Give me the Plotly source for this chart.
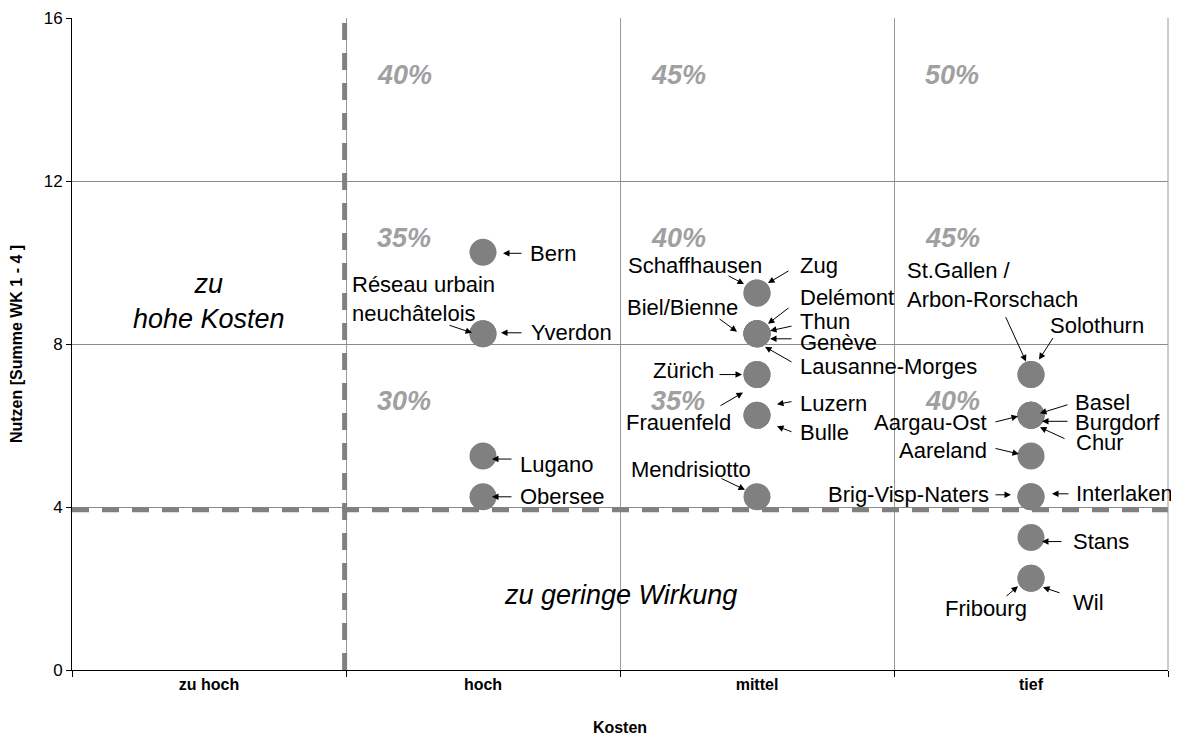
import plotly.graph_objects as go

# ---------------- data ----------------
cost_levels = ["zu hoch", "hoch", "mittel", "tief"]

regions_hoch = ["Bern", "Réseau urbain<br>neuchâtelois", "Yverdon", "Lugano", "Obersee"]
nutzen_hoch = [10.25, 8.25, 8.25, 5.25, 4.25]

regions_mittel = ["Schaffhausen", "Zug", "Biel/Bienne", "Delémont", "Thun", "Genève",
                  "Lausanne-Morges", "Zürich", "Frauenfeld", "Luzern", "Bulle", "Mendrisiotto"]
nutzen_mittel = [9.25, 9.25, 8.25, 8.25, 8.25, 8.25, 8.25, 7.25, 7.25, 6.25, 6.25, 4.25]

regions_tief = ["St.Gallen /<br>Arbon-Rorschach", "Solothurn", "Basel", "Burgdorf", "Chur",
                "Aargau-Ost", "Aareland", "Brig-Visp-Naters", "Interlaken", "Stans",
                "Fribourg", "Wil"]
nutzen_tief = [7.25, 7.25, 6.25, 6.25, 6.25, 6.25, 5.25, 4.25, 4.25, 3.25, 2.25, 2.25]

# percentage labels per cost column, rows anchored at the gridlines 16, 12, 8
pct_rows = [16, 12, 8]
pct_hoch = ["40%", "35%", "30%"]
pct_mittel = ["45%", "40%", "35%"]
pct_tief = ["50%", "45%", "40%"]

cost_threshold = 0.995      # vertical dashed line (Kosten)
nutzen_threshold = 3.93     # horizontal dashed line (Nutzen)

y_ticks = [0, 4, 8, 12, 16]

# ---------------- label styling (pixel offsets) ----------------
# name: (text dx, text dy, xanchor, tail dx, tail dy, head dx, head dy)  ; dy positive = down
label_style = {
    "Bern": (45, 1, "left", 40, 1, 20, 1),
    "Yverdon": (46, -1, "left", 40, -1, 18, -1),
    "Réseau urbain<br>neuchâtelois": (-133, -35, "left", -35, -9, -11, -1),
    "Lugano": (35, 8, "left", 30, 3, 9, 3),
    "Obersee": (35, 0, "left", 30, 0, 9, 0),
    "Zug": (41, -28, "left", 33, -23, 11, -10),
    "Schaffhausen": (7, -28, "right", -30, -18, -13, -9),
    "Delémont": (41, -36, "left", 33, -27, 11, -10),
    "Thun": (41, -12, "left", 36, -8, 13, -3),
    "Genève": (41, 9, "left", 36, 5, 13, 5),
    "Lausanne-Morges": (41, 33, "left", 36, 29, 8, 13),
    "Biel/Bienne": (-17, -26, "right", -39, -16, -20, -2),
    "Zürich": (-41, -4, "right", -39, 0, -15, 0),
    "Frauenfeld": (-24, 48, "right", -38, 32, -14, 18),
    "Luzern": (41, -12, "left", 36, -14, 20, -11),
    "Bulle": (41, 17, "left", 36, 17, 20, 11),
    "Mendrisiotto": (-128, -27, "left", -37, -19, -12, -7),
    "St.Gallen /<br>Arbon-Rorschach": (-126, -90, "left", -26, -59, -5, -13),
    "Solothurn": (17, -49, "left", 23, -38, 8, -15),
    "Basel": (42, -13, "left", 38, -11, 9, -2),
    "Burgdorf": (42, 7, "left", 38, 6, 11, 6),
    "Chur": (43, 27, "left", 35, 24, 9, 12),
    "Aargau-Ost": (-42, 7, "right", -37, 7, -13, 1),
    "Aareland": (-42, -6, "right", -37, -8, -12, -2),
    "Brig-Visp-Naters": (-40, -2, "right", -37, -2, -20, -2),
    "Interlaken": (43, -3, "left", 39, -3, 21, -3),
    "Stans": (40, 4, "left", 32, 4, 11, 4),
    "Wil": (40, 24, "left", 30, 15, 12, 9),
    "Fribourg": (-2, 30, "right", -26, 19, -13, 8),
}

FONT = "Liberation Sans, Arial, sans-serif"
GREY = "#808080"

fig = go.Figure()

groups = [("hoch", regions_hoch, nutzen_hoch),
          ("mittel", regions_mittel, nutzen_mittel),
          ("tief", regions_tief, nutzen_tief)]

annotations = []
for cat, names, vals in groups:
    xi = cost_levels.index(cat) + 0.5
    fig.add_trace(go.Scatter(
        x=[xi] * len(vals), y=vals, mode="markers",
        marker=dict(size=27, color=GREY, line=dict(width=0)),
        text=[n.replace("<br>", " ") for n in names],
        hoverinfo="text", showlegend=False, cliponaxis=False))
    for n, v in zip(names, vals):
        tdx, tdy, anc, tx, ty, hx, hy = label_style[n]
        annotations.append(dict(
            x=xi, y=v, xref="x", yref="y", text=n, showarrow=False,
            xanchor=anc, yanchor="middle", align="left",
            xshift=tdx, yshift=-tdy,
            font=dict(family=FONT, size=22, color="black")))
        annotations.append(dict(
            x=xi, y=v, xref="x", yref="y", text="", showarrow=True,
            xshift=hx, yshift=-hy, ax=tx - hx, ay=ty - hy,
            arrowhead=2, arrowsize=1.3, arrowwidth=1, arrowcolor="black", standoff=0))

# percentage labels
for cat, labels in [("hoch", pct_hoch), ("mittel", pct_mittel), ("tief", pct_tief)]:
    xl = cost_levels.index(cat)
    for row, lab in zip(pct_rows, labels):
        annotations.append(dict(
            x=xl, y=row, xref="x", yref="y", text=f"<b><i>{lab}</i></b>", showarrow=False,
            xanchor="center", yanchor="middle", xshift=58, yshift=-57,
            font=dict(family=FONT, size=27, color="#a0a0a0")))

# region texts
annotations.append(dict(
    x=0.5, y=9.05, xref="x", yref="y", text="<i>zu<br>hohe Kosten</i>", showarrow=False,
    xanchor="center", yanchor="middle", align="center",
    font=dict(family=FONT, size=27, color="black")))
annotations.append(dict(
    x=2.0, y=1.84, xref="x", yref="y", text="<i>zu geringe Wirkung</i>", showarrow=False,
    xanchor="center", yanchor="middle",
    font=dict(family=FONT, size=27, color="black")))

shapes = [
    dict(type="line", xref="x", yref="y", x0=cost_threshold, x1=cost_threshold, y0=0, y1=16,
         line=dict(color=GREY, width=5, dash="17px,13px"), layer="above"),
    dict(type="line", xref="x", yref="y", x0=0, x1=4, y0=nutzen_threshold, y1=nutzen_threshold,
         line=dict(color=GREY, width=5, dash="17px,13px"), layer="above"),
    dict(type="line", xref="paper", yref="paper", x0=1, x1=1, y0=0, y1=1,
         line=dict(color="#9a9a9a", width=1)),
]

# the page body adds an 8px margin: figure is sized/margined to place the plot area
fig.update_layout(
    width=1171, height=728,
    margin=dict(l=64, r=11, t=10, b=66, autoexpand=False),
    paper_bgcolor="white", plot_bgcolor="white",
    font=dict(family=FONT, color="black"),
    annotations=annotations, shapes=shapes,
    xaxis=dict(
        range=[0, 4], tickmode="array", automargin=False,
        tickvals=[i + 0.5 for i in range(len(cost_levels))],
        ticktext=[f"<b>{c}</b>" for c in cost_levels],
        ticks="", showgrid=False, zeroline=False,
        showline=True, linecolor="black", linewidth=1,
        tickfont=dict(family=FONT, size=16, color="black"),
        ticklabelstandoff=0,
        title=dict(text="<b>Kosten</b>", font=dict(family=FONT, size=16), standoff=29),
        minor=dict(tickmode="array", tickvals=[0, 1, 2, 3, 4], ticks="outside", ticklen=6,
                   tickcolor="black", showgrid=True, gridcolor="#9a9a9a", gridwidth=1),
        fixedrange=True,
    ),
    yaxis=dict(
        range=[0, 16], tickmode="array", tickvals=y_ticks, automargin=False,
        ticks="outside", ticklen=5, tickcolor="black",
        showgrid=True, gridcolor="#8a8a8a", gridwidth=1, zeroline=False,
        showline=True, linecolor="black", linewidth=1,
        tickfont=dict(family=FONT, size=17, color="black"),
        title=dict(text="<b>Nutzen [Summe WK 1 - 4 ]</b>", font=dict(family=FONT, size=16),
                   standoff=18),
        fixedrange=True,
    ),
)

fig.write_html("out.html")
